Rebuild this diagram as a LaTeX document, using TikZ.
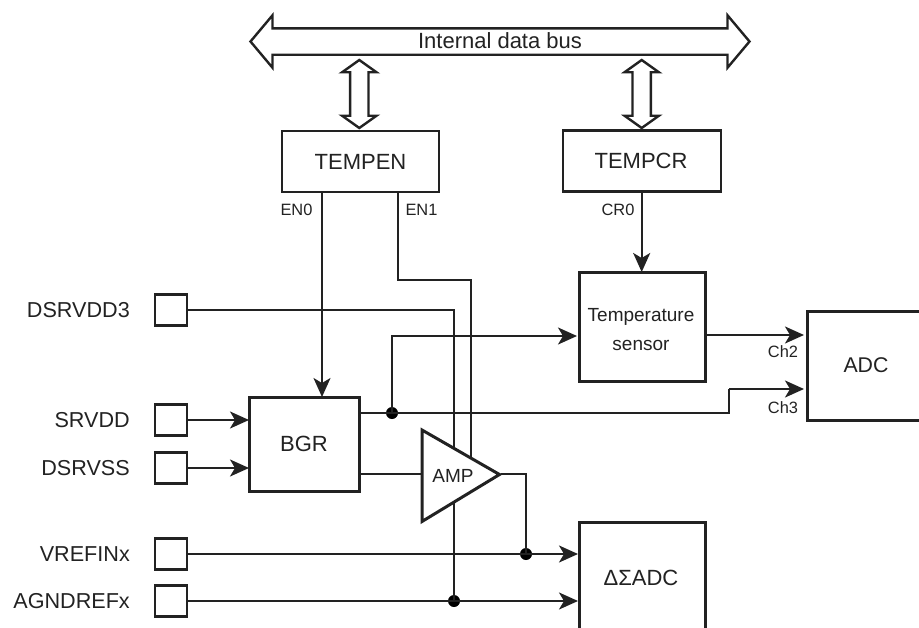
\documentclass[tikz,border=0pt]{standalone}
\usepackage{fontspec}
\setmainfont{Liberation Sans}
\usetikzlibrary{arrows.meta,shapes.arrows,shapes.geometric}
\definecolor{ink}{HTML}{222222}
\tikzset{
  x=1pt,y=-1pt,
  block/.style={draw=ink,line width=3pt,fill=white,inner sep=0pt,outer sep=0pt,align=center,text=ink,font=\fontsize{22}{26}\selectfont},
  regbox/.style={block,line width=2.4pt},
  pad/.style={draw=ink,line width=2.4pt,fill=white,minimum width=32pt,minimum height=31pt,inner sep=0pt,outer sep=0pt},
  padlabel/.style={anchor=east,inner sep=0pt,text=ink,font=\fontsize{21.6}{26}\selectfont},
  freetext/.style={inner sep=0pt,text=ink,align=center,font=\fontsize{22}{26}\selectfont},
  wire/.style={draw=ink,line width=2.2pt},
  sig/.style={wire,-{Stealth[length=19pt,width=17pt,inset=5pt]}},
  dot/.style={circle,fill=black,inner sep=0pt,minimum size=12pt},
  small/.style={inner sep=0pt,text=ink,font=\fontsize{16.4}{20}\selectfont},
  busarrow/.style={double arrow,draw=ink,line width=2.4pt,fill=white,inner xsep=0pt,outer sep=0pt},
}
\begin{document}
\begin{tikzpicture}
\useasboundingbox (0,0) rectangle (919,627);
% bus
\node[busarrow,inner ysep=12pt,minimum width=50pt,minimum height=499pt,double arrow head extend=13pt,double arrow tip angle=100] (bus) at (500,41.5) {};
\node[freetext] (buslabel) at (500,40.5) {Internal data bus};
\node[busarrow,rotate=90,inner ysep=8pt,minimum width=32pt,minimum height=68pt,double arrow head extend=8pt,double arrow tip angle=109] (linkA) at (359.3,94) {};
\node[busarrow,rotate=90,inner ysep=8pt,minimum width=32pt,minimum height=68pt,double arrow head extend=8pt,double arrow tip angle=109] (linkB) at (641.7,94) {};
% blocks
\node[regbox,minimum width=157pt,minimum height=61pt] (tempen) at (360.5,161.5) {\raisebox{-1.5pt}{TEMPEN}};
\node[regbox,minimum width=158pt,minimum height=61pt] (tempcr) at (642,161) {\hspace*{-2pt}TEMPCR};
\node[block,minimum width=126pt,minimum height=109pt] (sensor) at (642,326.5) {};
\node[freetext,font=\fontsize{19}{29}\selectfont] (sensorlabel) at (641,329.5) {Temperature\\sensor};
\node[block,minimum width=120pt,minimum height=109pt,anchor=north west] (adc) at (807,311) {};
\node[freetext,font=\fontsize{21.3}{26}\selectfont] (adclabel) at (866,365) {ADC};
\node[block,minimum width=110pt,minimum height=94pt] (bgr) at (304,444) {BGR};
\node[block,minimum width=126pt,minimum height=120pt,anchor=north west] (dsadc) at (579,522) {};
\node[freetext] (dsadclabel) at (641,577.7) {ΔΣADC};
% pads
\node[pad] (p1) at (171,310) {};
\node[pad] (p2) at (171,420) {};
\node[pad] (p3) at (171,468) {};
\node[pad] (p4) at (171,554) {};
\node[pad] (p5) at (171,601) {};
\node[padlabel] (l1) at (130,310) {DSRVDD3};
\node[padlabel] (l2) at (130,420) {SRVDD};
\node[padlabel] (l3) at (130,468) {DSRVSS};
\node[padlabel] (l4) at (130,554) {VREFINx};
\node[padlabel] (l5) at (130,601) {AGNDREFx};
% junctions
\node[dot] (j1) at (392,413) {};
\node[dot] (j2) at (526,554) {};
\node[dot] (j3) at (454,601) {};
\coordinate (en0) at (322,192);
\coordinate (en1) at (398,192);
\coordinate (ampin) at (422,474);
\coordinate (amptip) at (501,474);
% wires behind amplifier
\draw[wire] (p1.east) -| (j3.center);
\draw[wire] (en1) |- (471,280) -- (471,474);
\draw[wire] (bgr.east |- j1) -- (j1.center) -- (729,413) -- (729,389);
\draw[sig] (729,389) -- (804,389);
\draw[sig] (j1.center) |- (577,336);
\draw[wire] (bgr.east |- ampin) -- (ampin);
% amplifier
\draw[ink,line width=3pt,fill=white,line join=miter,miter limit=3] (422,430) -- (499.5,474.5) -- (422,521.5) -- cycle;
\node[freetext,font=\fontsize{19}{23}\selectfont] (amp) at (453,476) {AMP};
\draw[wire] (amptip) -| (j2.center);
% signals
\draw[sig] (en0) -- (en0 |- bgr.north);
\draw[sig] (tempcr.south -| linkB) -- (linkB |- sensor.north);
\draw[sig] (sensor.east |- 0,335) -- (804,335);
\draw[sig] (p2.east) -- (bgr.west |- p2);
\draw[sig] (p3.east) -- (bgr.west |- p3);
\draw[sig] (p4.east) -- (578,554);
\draw[sig] (p5.east) -- (578,601);
% small labels
\node[small] (en0t) at (296.5,210) {EN0};
\node[small] (en1t) at (421.5,210) {EN1};
\node[small] (cr0t) at (618,210) {CR0};
\node[small] (ch2) at (783,352) {Ch2};
\node[small] (ch3) at (783,408) {Ch3};
\end{tikzpicture}
\end{document}
